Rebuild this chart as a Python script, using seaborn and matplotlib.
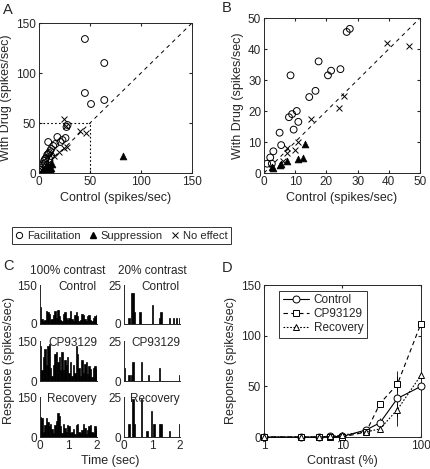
import numpy as np
import pandas as pd
import matplotlib
matplotlib.use("Agg")
import matplotlib.pyplot as plt
from matplotlib.lines import Line2D
import seaborn as sns

# ---- data ----
# panel A: all cells (control vs drug, spikes/sec)
a_fac_x = [45, 64, 45, 64, 51, 27, 28, 26, 23, 21, 18, 9, 14, 16, 12, 10, 11, 8, 7, 6, 5, 4, 3, 2, 1, 2, 9, 10, 12, 6]
a_fac_y = [134, 110, 80, 73, 69, 46, 48, 35, 33, 31, 36, 31, 27, 29, 24, 20, 22, 18, 15, 14, 12, 9, 7, 5, 3, 3, 19, 14, 17, 10]
a_sup_x = [82, 13, 12, 11, 8, 5, 5, 3, 2.5, 10]
a_sup_y = [17, 9, 5, 4, 4, 3, 2.5, 2, 1.5, 6]
a_no_x = [25, 26, 40, 46, 25, 27, 20, 15, 11, 10, 8, 7, 6, 5, 3]
a_no_y = [54, 47, 42, 40, 25, 26, 21, 17, 10, 8, 7, 8, 4, 5, 3]

# panel B
b_fac_x = [1, 2, 2.5, 3, 5, 5.5, 8, 8.5, 9, 9.5, 10.5, 11, 14.5, 16.5, 17.5, 20.5, 21.5, 24.5, 26.5, 27.5]
b_fac_y = [3, 5, 3, 7, 13, 9, 18, 31.5, 19, 14, 20, 16.5, 24.5, 26.5, 36, 31.5, 33, 33.5, 45.5, 46.5]
b_sup_x = [2.5, 3, 5, 5.5, 7.5, 11, 12.5, 13]
b_sup_y = [2, 1.5, 2.5, 3, 4, 4.5, 5, 9.5]
b_no_x = [7.5, 7.5, 10, 11, 15, 24, 25.5, 39.5, 46.5, 6]
b_no_y = [8, 6.5, 7.5, 10, 17.5, 21, 25, 42, 41, 4]

# panel C: PSTHs, 40 bins of 50 ms
conditions = ["Control", "CP93129", "Recovery"]
psth_100 = {
    "Control": [65, 20, 10, 15, 50, 45, 40, 15, 20, 35, 50, 25, 55, 30, 15, 10, 40, 45, 25, 15,
                25, 50, 20, 10, 35, 45, 30, 10, 15, 40, 35, 20, 10, 30, 35, 15, 10, 25, 30, 35],
    "CP93129": [130, 40, 90, 120, 60, 130, 140, 50, 20, 60, 100, 110, 70, 90, 40, 110, 40, 80, 60, 90,
                30, 70, 20, 60, 30, 130, 100, 50, 20, 80, 30, 65, 70, 25, 55, 45, 15, 50, 55, 45],
    "Recovery": [75, 70, 20, 45, 70, 55, 40, 50, 30, 15, 45, 60, 90, 80, 40, 15, 50, 35, 20, 45,
                 40, 15, 20, 30, 10, 45, 50, 20, 15, 25, 50, 35, 10, 25, 40, 45, 20, 15, 40, 35],
}
psth_20 = {
    "Control": [0, 0, 0, 4, 0, 20, 20, 8, 0, 0, 0, 8, 0, 0, 0, 0, 0, 0, 0, 0,
                12, 0, 0, 0, 0, 4, 8, 0, 0, 0, 0, 0, 4, 0, 0, 4, 0, 4, 0, 4],
    "CP93129": [8, 0, 0, 4, 0, 4, 12, 0, 0, 0, 0, 0, 12, 0, 0, 0, 0, 4, 0, 0,
                0, 0, 0, 0, 0, 8, 0, 0, 0, 0, 0, 0, 0, 0, 0, 0, 0, 0, 0, 4],
    "Recovery": [0, 0, 0, 8, 0, 0, 24, 8, 0, 0, 0, 0, 24, 0, 0, 0, 4, 0, 0, 16,
                 0, 8, 0, 0, 0, 8, 8, 0, 0, 0, 0, 0, 4, 0, 0, 0, 0, 0, 0, 8],
}
bin_edges = np.linspace(0, 2, 41)

# panel D: contrast response
contrast = [1, 3, 5, 7, 10, 20, 30, 50, 100]
resp_control = [0, 0, 0, 0.5, 0.5, 7, 14, 38, 50]
err_control = [0, 0, 0, 1, 1, 3, 5, 27, 5]
resp_cp = [0, 0, 0, 0, 0, 5, 33, 52, 112]
err_cp = [0, 0, 0, 0, 0, 2, 3, 8, 92]
resp_rec = [0, 0, 0, 0.5, 2, 5, 8, 27, 61]
err_rec = [0, 0, 0, 0, 1, 2, 3, 7, 10]

# ---- figure setup ----
sns.set_style("ticks")
plt.rcParams["font.family"] = ["Liberation Sans", "DejaVu Sans"]
plt.rcParams["font.size"] = 8.5
plt.rcParams["xtick.direction"] = "in"
plt.rcParams["ytick.direction"] = "in"
plt.rcParams["xtick.major.size"] = 2.5
plt.rcParams["ytick.major.size"] = 2.5
plt.rcParams["axes.linewidth"] = 0.7

W, H = 431, 469
FS = 8.5
fig = plt.figure(figsize=(W / 100, H / 100), dpi=100)
fig.patch.set_facecolor("white")


def px_axes(l, t, r, b):
    return fig.add_axes([l / W, 1 - b / H, (r - l) / W, (b - t) / H])


def scatter_panel(ax, fx, fy, sx, sy, nx, ny, lim, ticks):
    ax.plot([0, lim], [0, lim], ls=(0, (4, 4)), color="black", lw=0.7)
    sns.scatterplot(x=fx, y=fy, ax=ax, marker="o", s=24, facecolor="none",
                    edgecolor="black", linewidth=0.7)
    sns.scatterplot(x=sx, y=sy, ax=ax, marker="^", s=24, color="black",
                    edgecolor="black", linewidth=0.5)
    sns.scatterplot(x=nx, y=ny, ax=ax, marker="x", s=18, color="black", linewidth=0.7)
    ax.set_xlim(0, lim)
    ax.set_ylim(0, lim)
    ax.set_xticks(ticks)
    ax.set_yticks(ticks)
    ax.tick_params(top=True, right=True, labelsize=FS, pad=2)
    ax.set_xlabel("Control (spikes/sec)", fontsize=9, labelpad=3)
    ax.set_ylabel("With Drug (spikes/sec)", fontsize=9, labelpad=3)


# ---- A ----
axA = px_axes(39, 23, 192, 173)
scatter_panel(axA, a_fac_x, a_fac_y, a_sup_x, a_sup_y, a_no_x, a_no_y, 150, [0, 50, 100, 150])
axA.plot([0, 50], [50, 50], ls=(0, (1.5, 2)), color="black", lw=0.8)
axA.plot([50, 50], [0, 50], ls=(0, (1.5, 2)), color="black", lw=0.8)

# ---- B ----
axB = px_axes(264, 18, 420, 173)
scatter_panel(axB, b_fac_x, b_fac_y, b_sup_x, b_sup_y, b_no_x, b_no_y, 50, [0, 10, 20, 30, 40, 50])

# shared legend for A and B
handles = [
    Line2D([], [], ls="none", marker="o", mfc="none", mec="black", ms=4.5, mew=0.7, label="Facilitation"),
    Line2D([], [], ls="none", marker="^", color="black", ms=5, label="Suppression"),
    Line2D([], [], ls="none", marker="x", color="black", ms=4, mew=0.7, label="No effect"),
]
leg = fig.legend(handles=handles, ncol=3, loc="center", bbox_to_anchor=(121.5 / W, 1 - 235.5 / H),
                 frameon=True, fancybox=False, edgecolor="black", fontsize=8,
                 handlelength=0.6, handletextpad=0.4, columnspacing=0.8, borderpad=0.3)
leg.get_frame().set_linewidth(0.7)

# ---- C ----
rows = [(285, 324), (341, 381), (397, 437)]
cols = [(40, 97, psth_100, 150), (124, 180, psth_20, 25)]
centers = (bin_edges[:-1] + bin_edges[1:]) / 2
for i, cond in enumerate(conditions):
    t, b = rows[i]
    for l, r, data, ymax in cols:
        ax = px_axes(l, t, r, b)
        hist_df = pd.DataFrame({"time": centers, "rate": data[cond]})
        sns.histplot(data=hist_df, x="time", weights="rate", bins=list(bin_edges), ax=ax,
                     color="black", alpha=1, edgecolor="black", linewidth=0.5)
        ax.set_xlim(0, 2)
        ax.set_ylim(0, ymax)
        ax.set_yticks([0, ymax])
        ax.set_ylabel("")
        ax.set_xlabel("")
        sns.despine(ax=ax)
        ax.tick_params(direction="out", length=0, labelsize=FS, pad=2)
        if i == 2:
            ax.set_xticks([0, 1, 2])
        else:
            ax.set_xticks([])
        ax.text(1.0, 0.96, cond, transform=ax.transAxes, ha="right", va="center", fontsize=FS)

fig.text(68 / W, 1 - 271 / H, "100% contrast", ha="center", va="center", fontsize=FS)
fig.text(152 / W, 1 - 271 / H, "20% contrast", ha="center", va="center", fontsize=FS)
fig.text(110 / W, 1 - 461 / H, "Time (sec)", ha="center", va="center", fontsize=9)
fig.text(9 / W, 1 - 361 / H, "Response (spikes/sec)", ha="center", va="center",
         rotation=90, fontsize=9)

# ---- D ----
axD = px_axes(264, 285, 421, 437)
dfD = pd.DataFrame({"contrast": contrast * 3,
                    "resp": resp_control + resp_cp + resp_rec,
                    "cond": ["Control"] * 9 + ["CP93129"] * 9 + ["Recovery"] * 9})
styles = {"Control": ("-", "o"), "CP93129": ((0, (4, 3)), "s"), "Recovery": ((0, (1.5, 1.5)), "^")}
errs = {"Control": err_control, "CP93129": err_cp, "Recovery": err_rec}
for cond in conditions:
    sub = dfD[dfD["cond"] == cond]
    ls, mk = styles[cond]
    axD.errorbar(sub["contrast"], sub["resp"], yerr=errs[cond], fmt="none", ecolor="black",
                 elinewidth=0.6, capsize=0)
    sns.lineplot(data=sub, x="contrast", y="resp", ax=axD, color="black", lw=0.8,
                 linestyle=ls, marker=mk, markersize=5 if mk != "s" else 4.5,
                 markerfacecolor="white", markeredgecolor="black", markeredgewidth=0.7,
                 label=cond, clip_on=False, zorder=3)
axD.set_xscale("log")
axD.set_xlim(1, 100)
axD.set_ylim(0, 150)
axD.set_xticks([1, 10, 100])
axD.set_xticklabels(["1", "10", "100"])
axD.minorticks_off()
axD.set_yticks([0, 50, 100, 150])
axD.tick_params(which="both", top=True, right=True, labelsize=FS, pad=2)
axD.set_xlabel("Contrast (%)", fontsize=9, labelpad=2)
axD.set_ylabel("Response (spikes/sec)", fontsize=9, labelpad=3)
legD = axD.legend(loc="upper left", bbox_to_anchor=(0.06, 1.0), frameon=True, fancybox=False,
                  edgecolor="black", fontsize=FS, handlelength=2.2, handletextpad=0.4,
                  borderpad=0.3, labelspacing=0.15)
legD.get_frame().set_linewidth(0.7)

# panel letters
for letter, x, y in [("A", 3, 10), ("B", 222, 8), ("C", 3, 266), ("D", 222, 268)]:
    fig.text(x / W, 1 - y / H, letter, ha="left", va="center", fontsize=10.5)

fig.savefig("out.png", dpi=100)
